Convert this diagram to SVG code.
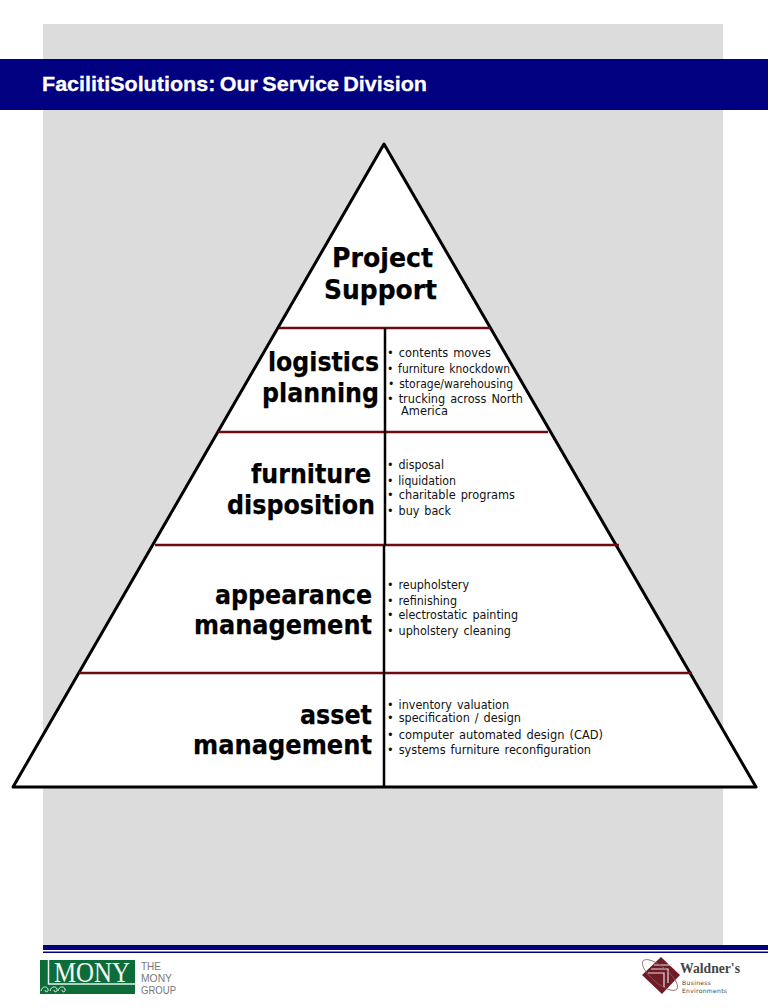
<svg xmlns="http://www.w3.org/2000/svg" width="768" height="1008" viewBox="0 0 768 1008">
<style>
.h{font-family:"DejaVu Sans",Verdana,sans-serif;font-weight:bold;font-size:26px;fill:#000;text-anchor:end;stroke:#000;stroke-width:.25}
.b{font-family:"DejaVu Sans",Verdana,sans-serif;font-size:12px;fill:#111;word-spacing:1.500px}
.r{stroke:#6e0b12;stroke-width:2.5;fill:none}
.k{stroke:#000;stroke-width:2.5;fill:none}
</style>
<rect width="768" height="1008" fill="#fff"/>
<rect x="43" y="24" width="680" height="921" fill="#dcdcdc"/>
<rect x="0" y="59" width="768" height="51" fill="#000080"/>
<text x="42" y="91" font-family="Liberation Sans, Arial, sans-serif" font-weight="bold" font-size="20.500" fill="#fff" stroke="#fff" stroke-width=".3" word-spacing="-1.500" textLength="385" lengthAdjust="spacingAndGlyphs">FacilitiSolutions: Our Service Division</text>
<g id="pyramid"><polygon points="384,144 756,787 13,787" fill="#fff" stroke="#000" stroke-width="3" stroke-linejoin="round"/></g>
<g id="connectors">
<path class="r" d="M279 328H490M218 432H548M155 545H619M79 673H692"/>
<path class="k" d="M385 328V432M385 432V545M384 545V787"/>
</g>
<g id="project-support"><text class="h" x="433" y="267" textLength="101" lengthAdjust="spacingAndGlyphs">Project</text><text class="h" x="437" y="299" textLength="113" lengthAdjust="spacingAndGlyphs">Support</text></g>
<g id="logistics-planning"><text class="h" x="379" y="371" textLength="111" lengthAdjust="spacingAndGlyphs">logistics</text><text class="h" x="379" y="402" textLength="117" lengthAdjust="spacingAndGlyphs">planning</text>
<text class="b" x="387" y="357" textLength="104" lengthAdjust="spacingAndGlyphs">• contents moves</text>
<text class="b" x="387" y="373" textLength="123" lengthAdjust="spacingAndGlyphs">• furniture knockdown</text>
<text class="b" x="388" y="388" textLength="125" lengthAdjust="spacingAndGlyphs">• storage/warehousing</text>
<text class="b" x="387" y="403" textLength="136" lengthAdjust="spacingAndGlyphs">• trucking across North</text>
<text class="b" x="401" y="415" textLength="47" lengthAdjust="spacingAndGlyphs">America</text></g>
<g id="furniture-disposition"><text class="h" x="371" y="483" textLength="120" lengthAdjust="spacingAndGlyphs">furniture</text><text class="h" x="375" y="514" textLength="148" lengthAdjust="spacingAndGlyphs">disposition</text>
<text class="b" x="387" y="469" textLength="57" lengthAdjust="spacingAndGlyphs">• disposal</text>
<text class="b" x="387" y="485" textLength="69" lengthAdjust="spacingAndGlyphs">• liquidation</text>
<text class="b" x="387" y="499" textLength="128" lengthAdjust="spacingAndGlyphs">• charitable programs</text>
<text class="b" x="387" y="515" textLength="64" lengthAdjust="spacingAndGlyphs">• buy back</text></g>
<g id="appearance-management"><text class="h" x="372" y="604" textLength="157" lengthAdjust="spacingAndGlyphs">appearance</text><text class="h" x="372" y="634" textLength="178" lengthAdjust="spacingAndGlyphs">management</text>
<text class="b" x="387" y="589" textLength="82" lengthAdjust="spacingAndGlyphs">• reupholstery</text>
<text class="b" x="387" y="605" textLength="70" lengthAdjust="spacingAndGlyphs">• refinishing</text>
<text class="b" x="387" y="619" textLength="131" lengthAdjust="spacingAndGlyphs">• electrostatic painting</text>
<text class="b" x="387" y="635" textLength="124" lengthAdjust="spacingAndGlyphs">• upholstery cleaning</text></g>
<g id="asset-management"><text class="h" x="372" y="724" textLength="72" lengthAdjust="spacingAndGlyphs">asset</text><text class="h" x="372" y="754" textLength="179" lengthAdjust="spacingAndGlyphs">management</text>
<text class="b" x="387" y="709" textLength="122" lengthAdjust="spacingAndGlyphs">• inventory valuation</text>
<text class="b" x="387" y="722" textLength="134" lengthAdjust="spacingAndGlyphs">• specification / design</text>
<text class="b" x="387" y="739" textLength="216" lengthAdjust="spacingAndGlyphs">• computer automated design (CAD)</text>
<text class="b" x="387" y="754" textLength="204" lengthAdjust="spacingAndGlyphs">• systems furniture reconfiguration</text></g>
<g id="footer-rule"><rect x="43" y="945" width="725" height="5" fill="#000080"/><rect x="43" y="951.500" width="725" height="1.500" fill="#000080"/></g>
<g id="mony-logo" opacity=".99">
<rect x="40" y="960" width="95" height="34" fill="#0a6b38"/>
<path d="M48.500 960V984H135" fill="none" stroke="#e8f2ec" stroke-width="1.500"/>
<path d="M41 991c1-5 6-5 7-2s-3 4-3 1M50 991c1-5 6-5 7-2s-3 4-3 1M58 991c1-5 6-5 7-2s-3 4-3 1" fill="none" stroke="#dfeee4" stroke-width="1"/>
<text transform="translate(54 982) scale(.83 1)" font-family="Liberation Serif, serif" font-size="30" fill="#f2f7f3">MONY</text>
<g font-family="Liberation Sans, Arial, sans-serif" font-size="11.500" fill="#777"><text x="141" y="969.500" textLength="20" lengthAdjust="spacingAndGlyphs">THE</text><text x="141" y="981.500" textLength="31" lengthAdjust="spacingAndGlyphs">MONY</text><text x="141" y="993.500" textLength="35" lengthAdjust="spacingAndGlyphs">GROUP</text></g>
</g>
<g id="waldners-logo" opacity=".99">
<polygon points="661,957 680,975 662,994 642,975" fill="#6e1a24"/>
<path d="M648 973H664V987M651 969H668V983M654 965H672" fill="none" stroke="#e8dcdc" stroke-width="1.200"/>
<ellipse cx="660" cy="975" rx="22" ry="8" transform="rotate(40 660 975)" fill="none" stroke="#8a5a60" stroke-width="0.800"/>
<text x="680" y="973" font-family="Liberation Serif, serif" font-weight="bold" font-size="15" fill="#444" textLength="60" lengthAdjust="spacingAndGlyphs">Waldner's</text>
<g font-family="DejaVu Sans, sans-serif" font-size="6" fill="#444"><text x="682" y="985" textLength="29">Business</text><text x="682" y="992.500" textLength="45">Environments</text></g>
</g>
</svg>
